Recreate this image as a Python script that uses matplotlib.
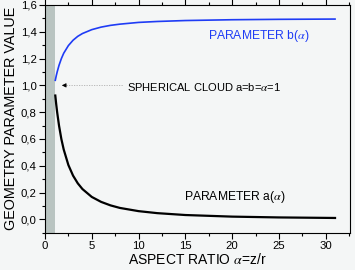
import matplotlib.pyplot as plt
from matplotlib.ticker import MultipleLocator, FuncFormatter

plt.rcParams['font.family'] = ['Liberation Sans', 'DejaVu Sans']
plt.rcParams['mathtext.fontset'] = 'stix'

# aspect ratio alpha = z/r and the two geometry parameters
alpha = [1.1, 1.2, 1.3, 1.5, 1.75, 2.0, 2.5, 3.0, 3.5, 4.0, 5.0, 6.0, 7.0,
         8.0, 10.0, 12.0, 15.0, 20.0, 25.0, 31.0]
param_a = [0.924, 0.858, 0.799, 0.699, 0.599, 0.521, 0.405, 0.326, 0.269,
           0.226, 0.167, 0.130, 0.104, 0.085, 0.061, 0.046, 0.032, 0.020,
           0.014, 0.010]
param_b = [1.038, 1.071, 1.100, 1.150, 1.200, 1.240, 1.297, 1.337, 1.366,
           1.387, 1.416, 1.435, 1.448, 1.457, 1.470, 1.477, 1.484, 1.490,
           1.493, 1.495]
sphere_value = 1.0

bg = '#f4f6f6'
blue = '#1f3cf5'

fig = plt.figure(figsize=(3.55, 2.7), dpi=100, facecolor=bg)
ax = fig.add_axes([45 / 355, 1 - 232.7 / 270, 305 / 355, (232.7 - 5) / 270])
ax.set_facecolor(bg)

# region below the sphere (alpha < 1)
ax.axvspan(0, 1.05, color='#b9c4c1', lw=0, zorder=0)

ax.plot(alpha, param_b, color=blue, lw=1.2)
ax.plot(alpha, param_a, color='black', lw=1.6)

ax.set_xlim(0, 32.6)
ax.set_ylim(-0.1, 1.6)

ax.xaxis.set_major_locator(MultipleLocator(5))
ax.xaxis.set_minor_locator(MultipleLocator(2.5))
ax.yaxis.set_major_locator(MultipleLocator(0.2))
ax.yaxis.set_minor_locator(MultipleLocator(0.1))
ax.yaxis.set_major_formatter(FuncFormatter(lambda v, p: ('%.1f' % v).replace('.', ',')))

ax.tick_params(which='both', direction='out', top=True, right=False,
               labelsize=8.2, width=0.8, pad=2)
ax.tick_params(which='major', length=4)
ax.tick_params(which='minor', length=2.5)
for s in ax.spines.values():
    s.set_linewidth(0.8)

ax.set_xlabel(r'ASPECT RATIO $\alpha$=z/r', fontsize=10, labelpad=1)
ax.set_ylabel('GEOMETRY PARAMETER VALUE', fontsize=10.4, labelpad=2)

# pointer to the spherical case
ax.plot([2.2, 8.3], [sphere_value, sphere_value], color='#b0b0b0', lw=0.6,
        ls=(0, (1.5, 1.5)))
ax.annotate('', xy=(1.5, sphere_value), xytext=(2.3, sphere_value),
            arrowprops=dict(arrowstyle='-|>', color='black', lw=0.6,
                            mutation_scale=6))
ax.text(8.8, sphere_value - 0.01, r'SPHERICAL CLOUD a=b=$\alpha$=1', fontsize=8,
        va='center', ha='left')
ax.text(17.4, 1.37, r'PARAMETER b($\alpha$)', fontsize=8.7, color=blue,
        va='center', ha='left')
ax.text(14.85, 0.165, r'PARAMETER a($\alpha$)', fontsize=8.7,
        va='center', ha='left')

fig.savefig('out.png', dpi=100, facecolor=bg)
